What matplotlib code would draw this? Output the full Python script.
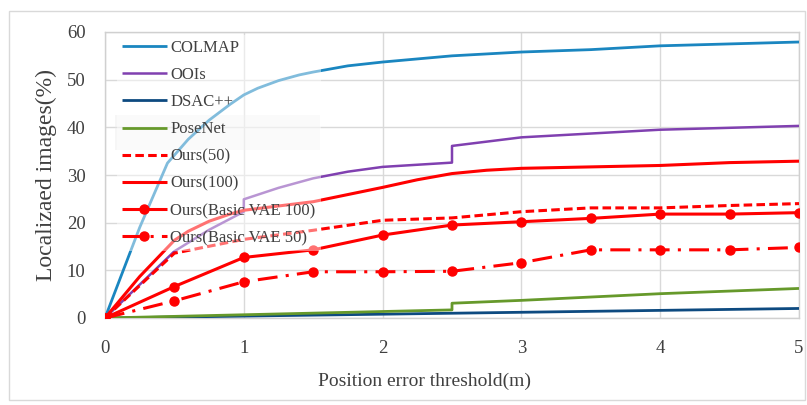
import matplotlib
matplotlib.use("Agg")
import matplotlib.pyplot as plt
from matplotlib.patches import Rectangle

# ---- data ----
x_colmap = [0, 0.25, 0.45, 0.6, 0.75, 0.9, 1.0, 1.1, 1.25, 1.4, 1.5, 1.75, 2.0, 2.5, 3.0, 3.5, 4.0, 4.5, 5.0]
y_colmap = [0, 19, 32.5, 37.5, 41.5, 44.8, 46.8, 48.2, 49.8, 51.0, 51.6, 52.9, 53.7, 55.0, 55.8, 56.3, 57.1, 57.5, 57.9]

x_oois = [0, 0.5, 0.75, 1.0, 1.0, 1.25, 1.5, 1.75, 2.0, 2.5, 2.5, 3.0, 3.5, 4.0, 4.5, 5.0]
y_oois = [0, 14.0, 18.5, 22.3, 24.9, 27.3, 29.3, 30.7, 31.7, 32.6, 36.1, 37.9, 38.7, 39.5, 39.9, 40.3]

x_dsac = [0, 2.5, 5.0]
y_dsac = [0, 1.0, 2.0]

x_posenet = [0, 2.5, 2.5, 3.0, 4.0, 5.0]
y_posenet = [0, 1.7, 3.1, 3.7, 5.1, 6.2]

x_ours50 = [0, 0.5, 1.0, 1.5, 2.0, 2.5, 3.0, 3.5, 4.0, 4.5, 5.0]
y_ours50 = [0, 13.6, 16.5, 18.4, 20.5, 21.0, 22.3, 23.1, 23.1, 23.6, 24.0]

x_ours100 = [0, 0.25, 0.5, 0.6, 0.75, 0.9, 1.0, 1.25, 1.5, 1.75, 2.0, 2.25, 2.5, 2.75, 3.0, 3.5, 4.0, 4.5, 5.0]
y_ours100 = [0, 8.7, 16.3, 18.2, 20.3, 21.8, 22.6, 23.5, 24.4, 25.9, 27.4, 29.0, 30.3, 31.0, 31.4, 31.7, 32.0, 32.6, 32.9]

x_vae = [0, 0.5, 1.0, 1.5, 2.0, 2.5, 3.0, 3.5, 4.0, 4.5, 5.0]
y_vae100 = [0, 6.6, 12.7, 14.3, 17.4, 19.5, 20.2, 20.9, 21.8, 21.8, 22.1]
y_vae50 = [0, 3.6, 7.6, 9.7, 9.7, 9.8, 11.6, 14.3, 14.3, 14.3, 14.8]

labels = ["COLMAP", "OOIs", "DSAC++", "PoseNet", "Ours(50)", "Ours(100)",
          "Ours(Basic VAE 100)", "Ours(Basic VAE 50)"]
x_ticks = [0, 1, 2, 3, 4, 5]
y_ticks = [0, 10, 20, 30, 40, 50, 60]

plt.rcParams['font.family'] = ['Liberation Serif', 'DejaVu Serif']
plt.rcParams['lines.solid_capstyle'] = 'butt'

fig = plt.figure(figsize=(8.07, 4.05), dpi=100)
ax = fig.add_axes([105/807, 1-318/405, (799-105)/807, (318-32)/405])

# outer chart frame
fig.patches.append(Rectangle((9/807, 5/405), 796/807, 389/405, transform=fig.transFigure,
                             fill=False, edgecolor='#d9d9d9', linewidth=1.0))
# faint shaded box behind one legend entry (as in the reference)
ax.add_patch(Rectangle((115/807, 1-150/405), 205/807, 35/405, transform=fig.transFigure,
                       facecolor='#e6e6e6', edgecolor='none', alpha=0.35, zorder=2.5))

red = '#ff0000'
ax.plot(x_colmap, y_colmap, color='#1a86c0', lw=2.0, label=labels[0], zorder=3)
ax.plot(x_oois, y_oois, color='#8040b0', lw=1.8, label=labels[1], zorder=3)
ax.plot(x_dsac, y_dsac, color='#0d4a80', lw=2.0, label=labels[2], zorder=3)
ax.plot(x_posenet, y_posenet, color='#66992b', lw=2.0, label=labels[3], zorder=3)
ax.plot(x_ours50, y_ours50, color=red, lw=2.2, dashes=(2.8, 1.4), label=labels[4], zorder=4)
ax.plot(x_ours100, y_ours100, color=red, lw=2.2, label=labels[5], zorder=4)
ax.plot(x_vae, y_vae100, color=red, lw=2.2, marker='o', markersize=6.5, label=labels[6], zorder=4)
ax.plot(x_vae, y_vae50, color=red, lw=2.2, marker='o', markersize=6.5,
        dashes=(6.5, 2.7, 1.0, 2.7), label=labels[7], zorder=4)

ax.set_xlim(0, 5)
ax.set_ylim(0, 60)
ax.set_xticks(x_ticks)
ax.set_yticks(y_ticks)
ax.grid(True, color='#d9d9d9', linewidth=1.0)
ax.set_axisbelow(True)
for s in ax.spines.values():
    s.set_color('#d0d0d0')
    s.set_linewidth(1.0)
ax.tick_params(length=0, labelsize=13.5, colors='#404040')
ax.tick_params(axis='x', pad=16)
ax.tick_params(axis='y', pad=14)
ax.set_xlabel('Position error threshold(m)', fontsize=14, color='#404040')
ax.xaxis.set_label_coords((425-105)/694, -0.19)
ax.set_ylabel('Localizaed images(%)', fontsize=17, color='#404040', labelpad=7)

leg = ax.legend(loc='upper left', bbox_to_anchor=(0.01, 1.007), fontsize=12, frameon=True,
                handlelength=2.7, handletextpad=0.2, labelspacing=0.67, borderaxespad=0.3,
                borderpad=0.3, fancybox=False)
leg.get_frame().set_facecolor('white')
leg.get_frame().set_alpha(0.45)
leg.get_frame().set_edgecolor('none')
for t in leg.get_texts():
    t.set_color('#404040')

fig.savefig('out.png', dpi=100)
